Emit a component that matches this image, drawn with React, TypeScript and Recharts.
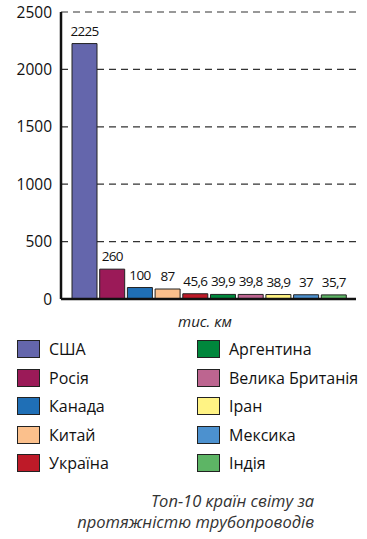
import { BarChart, Bar, XAxis, YAxis, CartesianGrid, Cell, LabelList } from "recharts"

const countries = [
  "США",
  "Росія",
  "Канада",
  "Китай",
  "Україна",
  "Аргентина",
  "Велика Британія",
  "Іран",
  "Мексика",
  "Індія",
]
const lengths = [2225, 260, 100, 87, 45.6, 39.9, 39.8, 38.9, 37, 35.7]
const colors = [
  "#6466ac",
  "#9b1a58",
  "#1f6fb6",
  "#fbc08c",
  "#be1a28",
  "#00873c",
  "#bd6590",
  "#fff384",
  "#4c91cf",
  "#5db565",
]
const yTicks = [0, 500, 1000, 1500, 2000, 2500]

const font = "'Open Sans', 'Noto Sans', sans-serif"

export default function App() {
  const data = countries.map((name, i) => ({ name, value: lengths[i], color: colors[i] }))
  const leftCol = data.slice(0, 5)
  const rightCol = data.slice(5)

  const legendItem = (item: { name: string; color: string }) => (
    <div key={item.name} style={{ display: "flex", alignItems: "center", height: 28.5 }}>
      <span
        style={{
          display: "inline-block",
          width: 21,
          height: 16,
          background: item.color,
          border: "1.5px solid #222",
          marginRight: 9,
        }}
      ></span>
      <span style={{ fontSize: 16, color: "#111" }}>{item.name}</span>
    </div>
  )

  return (
    <div style={{ position: "absolute", left: 0, top: 0, width: 367, height: 539, background: "#fff", fontFamily: font }}>
      <BarChart width={367} height={310} data={data} margin={{ top: 12, right: 11, left: 0, bottom: 0 }}>
        <CartesianGrid vertical={false} stroke="#333" strokeDasharray="7 5" strokeWidth={1.2} />
        <XAxis
          dataKey="name"
          tick={false}
          tickLine={false}
          height={11}
          padding={{ left: 10, right: 8 }}
          axisLine={{ stroke: "#111", strokeWidth: 2.5 }}
        />
        <YAxis
          domain={[0, 2500]}
          ticks={yTicks}
          width={61}
          tickLine={false}
          tickMargin={3}
          axisLine={{ stroke: "#111", strokeWidth: 2.5 }}
          tick={{ fill: "#111", fontSize: 15.5, fontFamily: font }}
        />
        <Bar dataKey="value" barSize={25} stroke="#222" strokeWidth={1} isAnimationActive={false}>
          {data.map((d) => (
            <Cell key={d.name} fill={d.color} />
          ))}
          <LabelList
            dataKey="value"
            position="top"
            offset={8}
            formatter={(v: number) => String(v).replace(".", ",")}
            style={{ fill: "#111", fontSize: 13.5, fontFamily: font, letterSpacing: -0.7 }}
          />
        </Bar>
      </BarChart>
      <div
        style={{
          position: "absolute",
          left: 150,
          width: 110,
          top: 311,
          textAlign: "center",
          fontStyle: "italic",
          fontSize: 15,
          color: "#222",
        }}
      >
        тис. км
      </div>
      <div style={{ position: "absolute", left: 17, top: 335 }}>{leftCol.map(legendItem)}</div>
      <div style={{ position: "absolute", left: 197, top: 335 }}>{rightCol.map(legendItem)}</div>
      <div
        style={{
          position: "absolute",
          right: 53,
          top: 490,
          textAlign: "right",
          fontStyle: "italic",
          fontSize: 16.5,
          lineHeight: "21px",
          color: "#333",
        }}
      >
        Топ-10 країн світу за
        <br />
        протяжністю трубопроводів
      </div>
    </div>
  )
}
